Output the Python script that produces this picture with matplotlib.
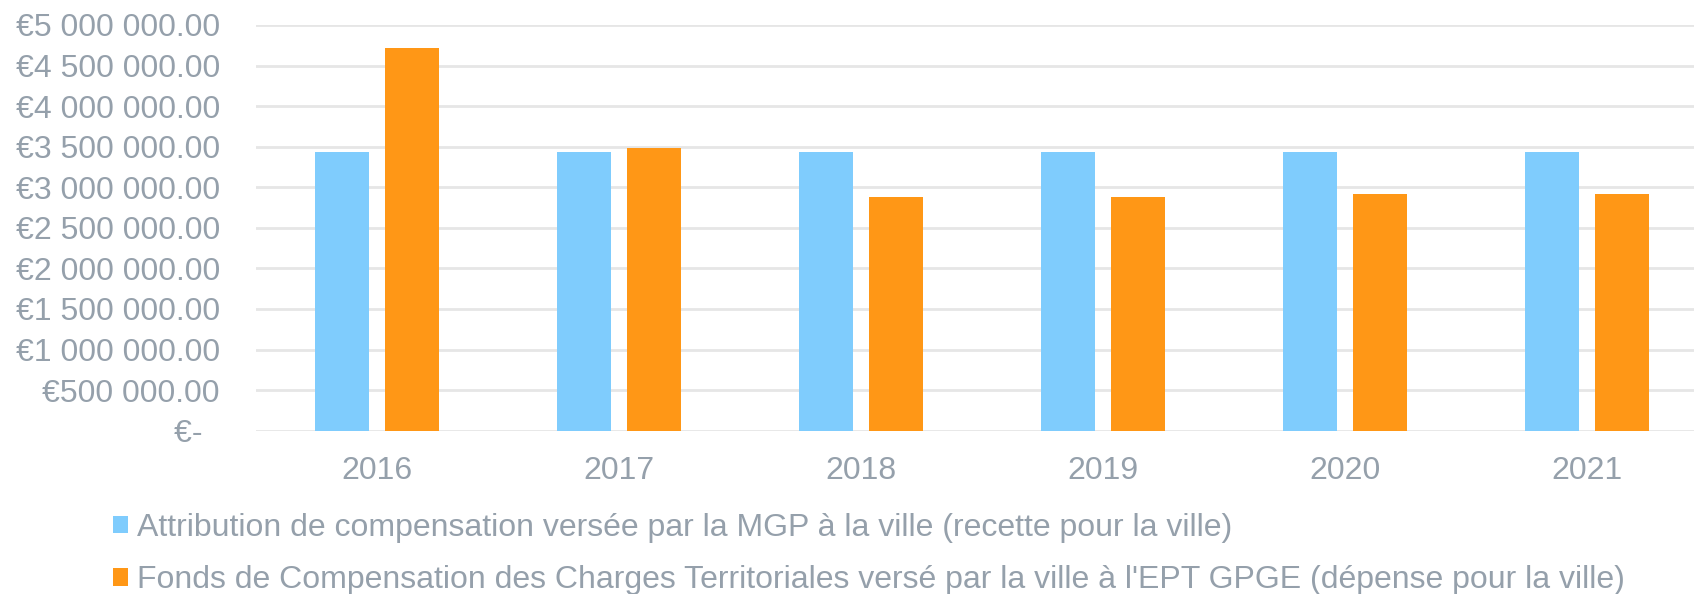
import matplotlib
matplotlib.use("Agg")
import matplotlib.pyplot as plt
import matplotlib.ticker as mticker
from matplotlib.patches import Patch
import numpy as np

years = ["2016", "2017", "2018", "2019", "2020", "2021"]
attribution = [3431000, 3431000, 3431000, 3431000, 3431000, 3431000]
fcct = [4720000, 3480000, 2880000, 2876000, 2913000, 2917000]
series_labels = [
    "Attribution de compensation versée par la MGP à la ville (recette pour la ville)",
    "Fonds de Compensation des Charges Territoriales versé par la ville à l'EPT GPGE (dépense pour la ville)",
]
yticks = [0, 500000, 1000000, 1500000, 2000000, 2500000, 3000000, 3500000, 4000000, 4500000, 5000000]

plt.rcParams['font.family'] = ['Liberation Sans', 'DejaVu Sans']
TXT = '#95A0AB'
BLUE = '#7FCCFD'
ORANGE = '#FF9716'
GRID = '#E6E6E6'
FS = 23

W, H = 1694, 594
fig = plt.figure(figsize=(W / 100, H / 100), dpi=100)
left, right = 256, 1708
bottom, top = 430.7, 25
ax = fig.add_axes([left / W, 1 - bottom / H, (right - left) / W, (bottom - top) / H])

x = np.arange(len(years))
bw = 0.223
off = 0.145
ax.bar(x - off, attribution, width=bw, color=BLUE, zorder=3)
ax.bar(x + off, fcct, width=bw, color=ORANGE, zorder=3)

ax.set_xlim(-0.5, len(years) - 0.5)
ax.set_ylim(0, 5000000)
ax.set_yticks(yticks)


def fmt(v, pos):
    if v == 0:
        return "€-  "
    s = f"{v:,.2f}".replace(",", " ")
    return "€" + s


ax.yaxis.set_major_formatter(mticker.FuncFormatter(fmt))
ax.set_xticks(x)
ax.set_xticklabels(years)
ax.tick_params(axis='y', length=0, pad=26, labelsize=FS, labelcolor=TXT)
ax.tick_params(axis='x', length=0, pad=18, labelsize=FS, labelcolor=TXT)
ax.yaxis.grid(True, color=GRID, linewidth=2, zorder=0)
ax.set_axisbelow(True)
for s in ax.spines.values():
    s.set_visible(False)

handles = [Patch(facecolor=BLUE, edgecolor='none'), Patch(facecolor=ORANGE, edgecolor='none')]
leg = fig.legend(handles, series_labels, loc='upper left',
                 bbox_to_anchor=(113 / W, 1 - 513 / H),
                 frameon=False, fontsize=FS, handlelength=0.47, handleheight=0.47,
                 handletextpad=0.28, labelspacing=0.7, borderpad=0, borderaxespad=0)
for t in leg.get_texts():
    t.set_color(TXT)

fig.savefig("out.png", dpi=100)
